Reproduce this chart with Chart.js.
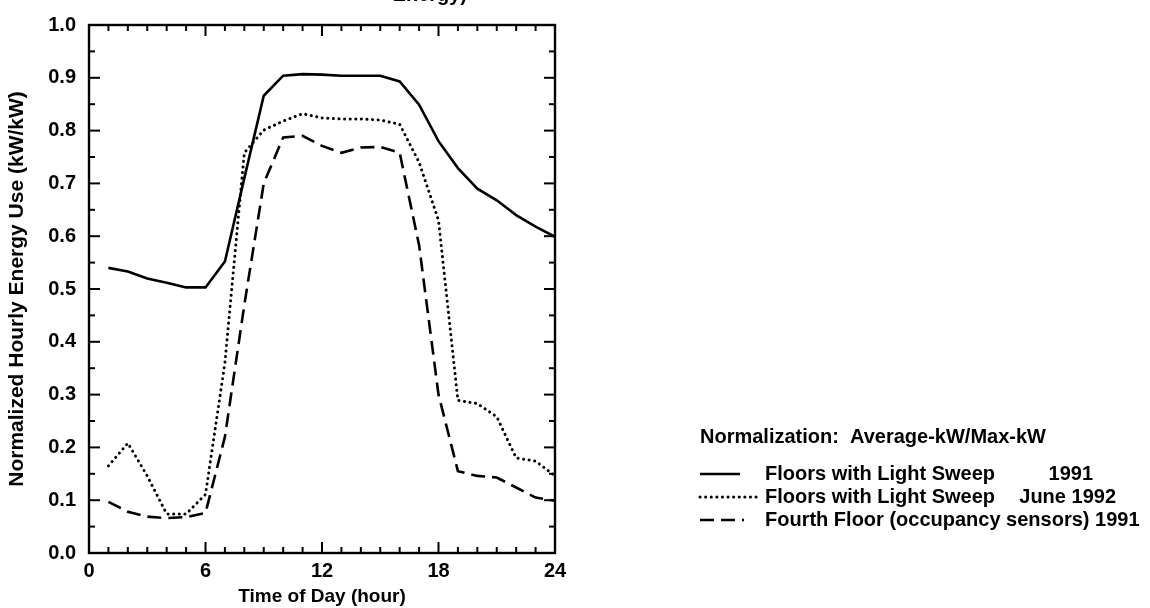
<!DOCTYPE html>
<html>
<head>
<meta charset="utf-8">
<script src="https://cdn.jsdelivr.net/npm/chart.js@4.4.1/dist/chart.umd.min.js"></script>
<style>
    html, body { margin: 0; padding: 0; background: #fff; }
    canvas { display: block; }
</style>
</head>
<body>
<canvas id="graficoEnergia" width="1150" height="608"></canvas>
<script>
// hourly values
const horas = [1, 2, 3, 4, 5, 6, 7, 8, 9, 10, 11, 12, 13, 14, 15, 16, 17, 18, 19, 20, 21, 22, 23, 24]
const sweep1991 = [0.54, 0.533, 0.52, 0.512, 0.503, 0.503, 0.552, 0.71, 0.866, 0.904, 0.907, 0.906, 0.904, 0.904, 0.904, 0.893, 0.849, 0.78, 0.729, 0.69, 0.668, 0.64, 0.618, 0.599]
const sweep1992 = [0.165, 0.208, 0.146, 0.074, 0.074, 0.111, 0.36, 0.758, 0.801, 0.818, 0.832, 0.824, 0.822, 0.822, 0.82, 0.812, 0.74, 0.63, 0.289, 0.283, 0.258, 0.18, 0.174, 0.146]
const quartoAndar = [0.097, 0.078, 0.069, 0.066, 0.068, 0.076, 0.22, 0.47, 0.7, 0.787, 0.79, 0.771, 0.758, 0.768, 0.769, 0.758, 0.583, 0.3, 0.155, 0.146, 0.143, 0.124, 0.105, 0.099]

const xTicks = [0, 6, 12, 18, 24]
const yTicks = [0, 0.1, 0.2, 0.3, 0.4, 0.5, 0.6, 0.7, 0.8, 0.9, 1.0]

const nomes = ['Floors with Light Sweep', 'Floors with Light Sweep', 'Fourth Floor (occupancy sensors) 1991']
const anos = ['1991', 'June 1992', '']
const notaNormalizacao = 'Normalization:  Average-kW/Max-kW'

const FONTE = '"Liberation Sans", Arial, sans-serif'

function pontos(valores) {
    return horas.map((h, i) => ({ x: h, y: valores[i] }))
}

function linha(ctx, x1, y1, x2, y2) {
    ctx.beginPath()
    ctx.moveTo(x1, y1)
    ctx.lineTo(x2, y2)
    ctx.stroke()
}

// box frame with inward ticks, legend block and the clipped title fragment
const molduraPlugin = {
    id: 'moldura',
    afterDraw(chart) {
        const { ctx, chartArea: a, scales: { x, y } } = chart
        ctx.save()
        ctx.strokeStyle = '#000'
        ctx.lineWidth = 2.4
        ctx.strokeRect(a.left, a.top, a.right - a.left, a.bottom - a.top)

        ctx.lineWidth = 2
        for (let h = 0; h <= 24; h++) {
            const px = x.getPixelForValue(h)
            const len = xTicks.includes(h) ? 11 : 6
            linha(ctx, px, a.bottom, px, a.bottom - len)
            linha(ctx, px, a.top, px, a.top + len)
        }
        for (let i = 0; i <= 20; i++) {
            const py = y.getPixelForValue(i / 20)
            const len = i % 2 === 0 ? 11 : 6
            linha(ctx, a.left, py, a.left + len, py)
            linha(ctx, a.right, py, a.right - len, py)
        }

        // title fragment cut by the top edge of the scan
        ctx.fillStyle = '#000'
        ctx.font = 'bold 20px ' + FONTE
        ctx.textAlign = 'right'
        ctx.textBaseline = 'alphabetic'
        ctx.fillText('Energy)', 467, 1)

        // legend
        const lx = 700
        const tx = 765
        ctx.textAlign = 'left'
        ctx.textBaseline = 'middle'
        ctx.font = 'bold 20px ' + FONTE
        ctx.fillText(notaNormalizacao, lx, 437)

        const comprimentos = [40, 58, 44]
        chart.data.datasets.forEach((ds, i) => {
            const ly = 474 + i * 23
            ctx.strokeStyle = '#000'
            ctx.lineWidth = ds.borderWidth
            ctx.lineCap = ds.borderCapStyle || 'butt'
            ctx.setLineDash(ds.borderDash || [])
            linha(ctx, lx, ly, lx + comprimentos[i], ly)
            ctx.setLineDash([])
            ctx.lineCap = 'butt'
            ctx.fillText(nomes[i], tx, ly)
            if (anos[i]) {
                ctx.textAlign = 'right'
                ctx.fillText(anos[i], i === 0 ? 1093 : 1116, ly)
                ctx.textAlign = 'left'
            }
        })
        ctx.restore()
    }
}

function criarGrafico() {
    const el = document.getElementById('graficoEnergia')
    if (!el) return

    new Chart(el, {
        type: 'line',
        data: {
            datasets: [
            {
                label: 'Floors with Light Sweep 1991',
                data: pontos(sweep1991),
                borderColor: '#000',
                borderWidth: 2.6,
                pointRadius: 0,
                tension: 0,
                fill: false
            },
            {
                label: 'Floors with Light Sweep June 1992',
                data: pontos(sweep1992),
                borderColor: '#000',
                borderWidth: 3,
                borderDash: [0.1, 5.5],
                borderCapStyle: 'round',
                pointRadius: 0,
                tension: 0,
                fill: false
            },
            {
                label: 'Fourth Floor (occupancy sensors) 1991',
                data: pontos(quartoAndar),
                borderColor: '#000',
                borderWidth: 2.6,
                borderDash: [14, 7],
                pointRadius: 0,
                tension: 0,
                fill: false
            }
            ]
        },
        options: {
            responsive: false,
            animation: false,
            layout: {
                padding: { top: 16, right: 595, bottom: 0, left: 0 }
            },
            plugins: {
                legend: { display: false },
                tooltip: { enabled: false }
            },
            scales: {
                x: {
                    type: 'linear',
                    min: 0,
                    max: 24,
                    afterBuildTicks: s => { s.ticks = xTicks.map(v => ({ value: v })) },
                    afterFit: s => { s.height = 55 },
                    grid: { display: false, drawTicks: false },
                    border: { display: false },
                    ticks: {
                        color: '#000',
                        padding: 6,
                        maxRotation: 0,
                        font: { family: FONTE, size: 20, weight: 'bold' }
                    },
                    title: {
                        display: true,
                        text: 'Time of Day (hour)',
                        color: '#000',
                        padding: { top: 0, bottom: 0 },
                        font: { family: FONTE, size: 19, weight: 'bold' }
                    }
                },
                y: {
                    min: 0,
                    max: 1,
                    afterBuildTicks: s => { s.ticks = yTicks.map(v => ({ value: v })) },
                    afterFit: s => { s.width = 89 },
                    grid: { display: false, drawTicks: false },
                    border: { display: false },
                    ticks: {
                        color: '#000',
                        padding: 13,
                        callback: v => Number(v).toFixed(1),
                        font: { family: FONTE, size: 20, weight: 'bold' }
                    },
                    title: {
                        display: true,
                        text: 'Normalized Hourly Energy Use (kW/kW)',
                        color: '#000',
                        padding: { top: 5, bottom: 0 },
                        font: { family: FONTE, size: 21, weight: 'bold' }
                    }
                }
            }
        },
        plugins: [molduraPlugin]
    })
}

document.addEventListener('DOMContentLoaded', criarGrafico)
</script>
</body>
</html>
